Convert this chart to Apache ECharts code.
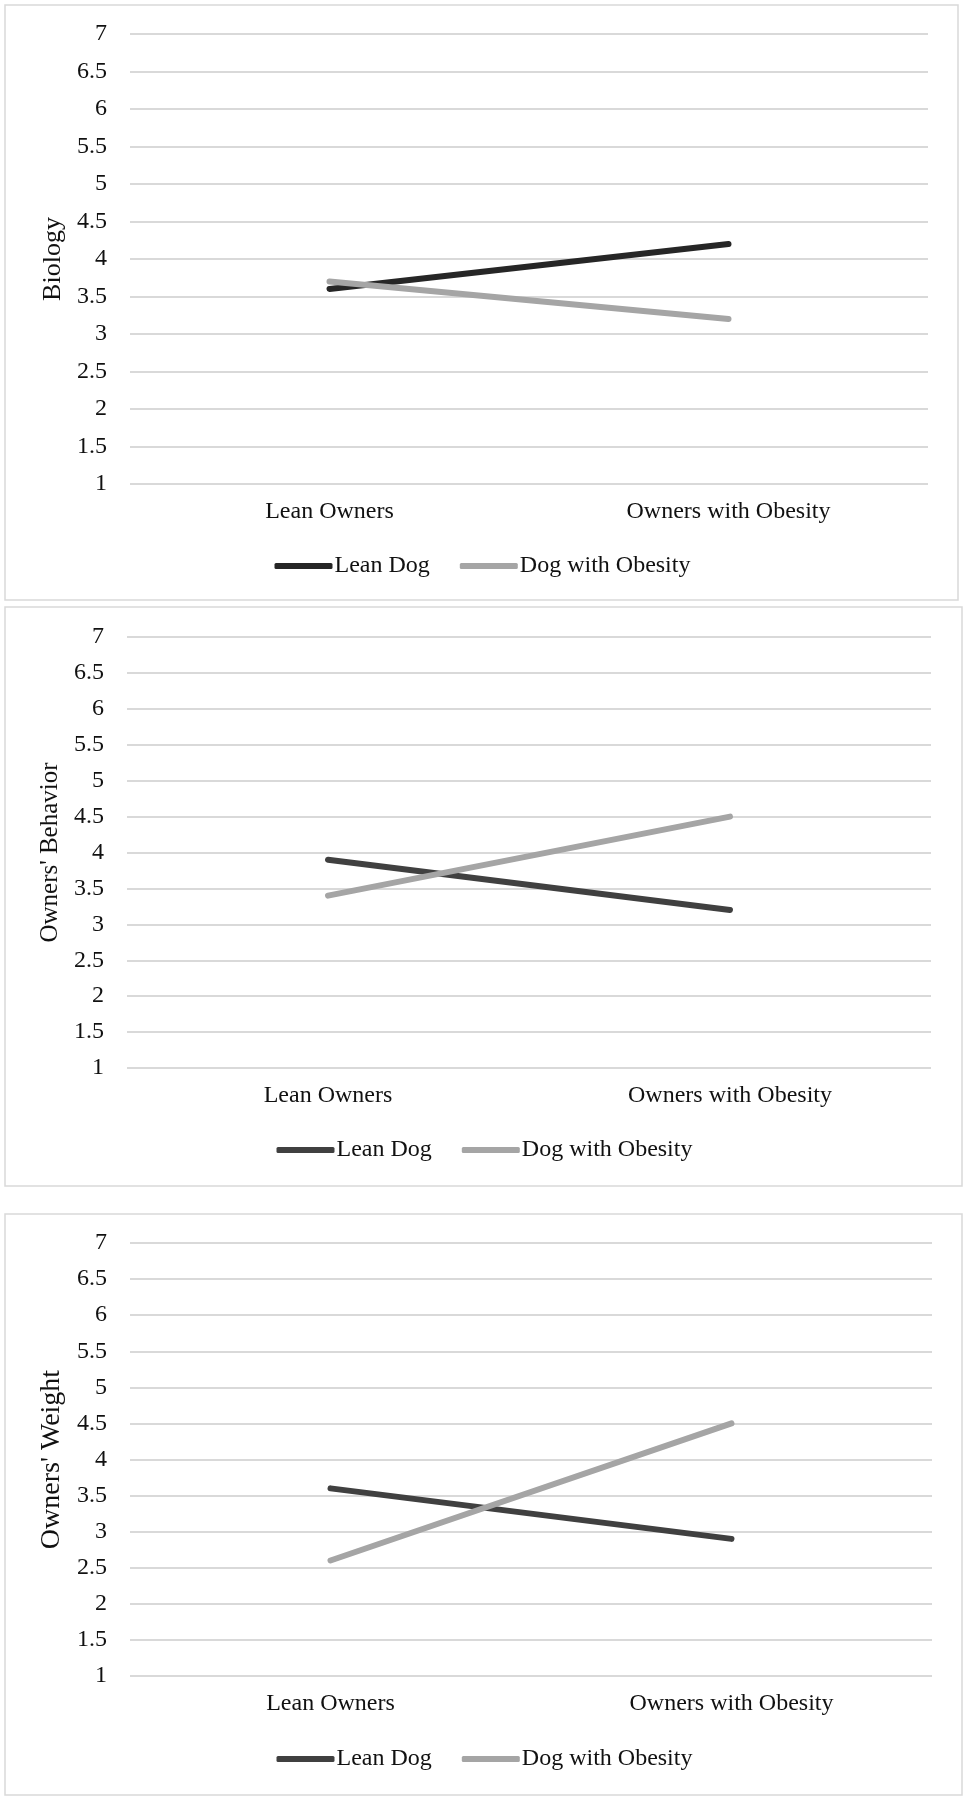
<!DOCTYPE html>
<html>
<head>
<meta charset="utf-8">
<script src="https://cdn.jsdelivr.net/npm/echarts@6/dist/echarts.min.js"></script>
<style>
  html, body { margin: 0; padding: 0; background: #ffffff; }
  #chart { width: 967px; height: 1800px; }
</style>
</head>
<body>
<div id="chart"></div>
<script>
// ---- Data ----
var categories = ['Lean Owners', 'Owners with Obesity'];
var seriesNames = ['Lean Dog', 'Dog with Obesity'];
var yTicks = ['1', '1.5', '2', '2.5', '3', '3.5', '4', '4.5', '5', '5.5', '6', '6.5', '7'];

var panelTitles = ['Biology', "Owners' Behavior", "Owners' Weight"];

var biologyLeanDog = [3.6, 4.2];
var biologyObeseDog = [3.7, 3.2];

var behaviorLeanDog = [3.9, 3.2];
var behaviorObeseDog = [3.4, 4.5];

var weightLeanDog = [3.6, 2.9];
var weightObeseDog = [2.6, 4.5];

var panelData = [
  [biologyLeanDog, biologyObeseDog],
  [behaviorLeanDog, behaviorObeseDog],
  [weightLeanDog, weightObeseDog]
];

// ---- Layout / style ----
var FONT = "'Liberation Serif', 'Times New Roman', serif";
var panels = [
  { box: [5, 5, 953, 595], grid: { left: 130, top: 34, width: 798, height: 450 }, legendTop: 549, titleSize: 26, titleGap: 53, dark: '#262626' },
  { box: [5, 607, 957, 579], grid: { left: 127, top: 637, width: 804, height: 431 }, legendTop: 1133, titleSize: 25, titleGap: 61, dark: '#404040' },
  { box: [5, 1214, 957, 581], grid: { left: 130, top: 1243, width: 802, height: 433 }, legendTop: 1742, titleSize: 28, titleGap: 53, dark: '#404040' }
];
var LIGHT = '#a5a5a5';

var option = {
  backgroundColor: '#ffffff',
  animation: false,
  grid: [], xAxis: [], yAxis: [], series: [], legend: [],
  graphic: []
};

panels.forEach(function (p, i) {
  option.graphic.push({
    type: 'rect',
    shape: { x: p.box[0], y: p.box[1], width: p.box[2], height: p.box[3] },
    style: { fill: 'none', stroke: '#d9d9d9', lineWidth: 1.5 },
    silent: true,
    z: -1
  });
  option.grid.push({ left: p.grid.left, top: p.grid.top, width: p.grid.width, height: p.grid.height, containLabel: false });
  option.xAxis.push({
    type: 'category',
    gridIndex: i,
    data: categories,
    boundaryGap: true,
    axisLine: { show: false },
    axisTick: { show: false },
    axisLabel: { fontFamily: FONT, fontSize: 24, color: '#111', margin: 16 },
    splitLine: { show: false }
  });
  option.yAxis.push({
    type: 'value',
    gridIndex: i,
    min: 1, max: 7, interval: 0.5,
    name: panelTitles[i],
    nameLocation: 'middle',
    nameGap: p.titleGap,
    nameRotate: 90,
    nameTextStyle: { fontFamily: FONT, fontSize: p.titleSize, color: '#111' },
    axisLine: { show: false },
    axisTick: { show: false },
    axisLabel: {
      fontFamily: FONT, fontSize: 24, color: '#111', margin: 23,
      formatter: function (v) { var s = String(Math.round(v * 10) / 10); return yTicks.indexOf(s) >= 0 ? s : ''; }
    },
    splitLine: { show: true, lineStyle: { color: '#d9d9d9', width: 2 } }
  });
  var colors = [p.dark, LIGHT];
  seriesNames.forEach(function (name, k) {
    option.series.push({
      type: 'line',
      name: name,
      xAxisIndex: i, yAxisIndex: i,
      data: panelData[i][k],
      symbol: 'none',
      lineStyle: { color: colors[k], width: 6, cap: 'round' },
      itemStyle: { color: colors[k] },
      z: 2 + k
    });
  });
  option.legend.push({
    left: p.box[0] + p.box[2] / 2 - 212,
    top: p.legendTop,
    orient: 'horizontal',
    itemWidth: 58,
    itemHeight: 6,
    itemGap: 30,
    icon: 'roundRect',
    data: seriesNames.map(function (n, k) {
      return { name: n, itemStyle: { color: colors[k] } };
    }),
    textStyle: { fontFamily: FONT, fontSize: 24, color: '#111', padding: [0, 0, 0, -3] },
    selectedMode: false
  });
});

var chart = echarts.init(document.getElementById('chart'), null, { renderer: 'canvas' });
chart.setOption(option);
</script>
</body>
</html>
